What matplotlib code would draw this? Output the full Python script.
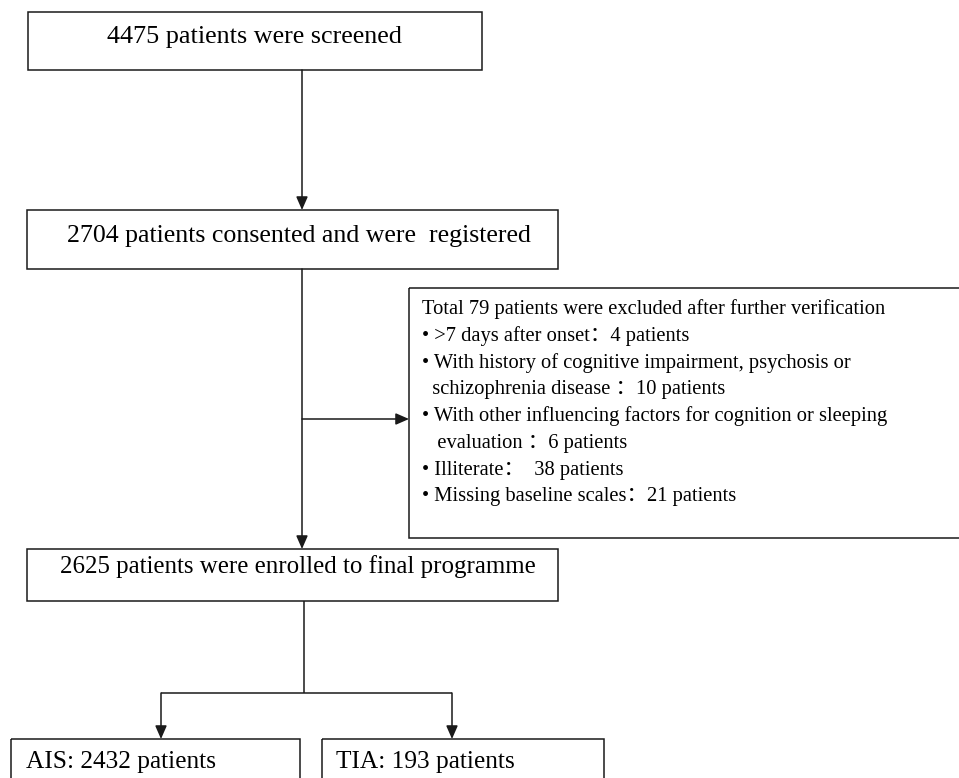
import matplotlib.pyplot as plt
from matplotlib.patches import Rectangle

# --- flowchart text ---
STEP_LABELS = [
    '4475 patients were screened',
    '2704 patients consented and were  registered',
    '2625 patients were enrolled to final programme',
]
EXCLUDE_TITLE = 'Total 79 patients were excluded after further verification'
EXCLUDE_LINES = [
    '• >7 days after onset：4 patients',
    '• With history of cognitive impairment, psychosis or',
    '  schizophrenia disease ：10 patients',
    '• With other influencing factors for cognition or sleeping',
    '   evaluation ：6 patients',
    '• Illiterate：  38 patients',
    '• Missing baseline scales：21 patients',
]
GROUP_LABELS = ['AIS: 2432 patients', 'TIA: 193 patients']

FONT = ['Liberation Serif', 'Noto Sans CJK SC']
LINE_COLOR = '#1a1a1a'
LW = 1.1

W, H = 959, 778

fig = plt.figure(figsize=(W / 100, H / 100), dpi=100)
ax = fig.add_axes([0, 0, 1, 1])
ax.set_xlim(0, W)
ax.set_ylim(H, 0)
ax.axis('off')


def box(x0, y0, x1, y1):
    ax.add_patch(Rectangle((x0, y0), x1 - x0, y1 - y0, fill=False,
                           edgecolor=LINE_COLOR, linewidth=LW))


def line(xs, ys):
    ax.plot(xs, ys, color=LINE_COLOR, linewidth=LW, solid_capstyle='butt')


def arrow(x0, y0, x1, y1):
    ax.annotate('', xy=(x1, y1), xytext=(x0, y0),
                arrowprops=dict(arrowstyle='-|>,head_length=0.8,head_width=0.35',
                                color=LINE_COLOR, lw=LW,
                                shrinkA=0, shrinkB=0))


# main boxes
box(28, 12, 482, 70)
ax.text(107, 37, STEP_LABELS[0], family=FONT, fontsize=18.8, va='center')

box(27, 210, 558, 269)
ax.text(67, 236, STEP_LABELS[1], family=FONT, fontsize=18.6, va='center')

box(27, 549, 558, 601)
ax.text(60, 567, STEP_LABELS[2], family=FONT, fontsize=17.9, va='center')

arrow(302, 70, 302, 210)
arrow(302, 269, 302, 549)

# exclusion box
box(409, 288, 962, 538)
arrow(302, 419, 409, 419)
ax.text(422, 309, EXCLUDE_TITLE, family=FONT, fontsize=14.8, va='center')
for i, s in enumerate(EXCLUDE_LINES):
    ax.text(422, 336 + i * 26.8, s, family=FONT, fontsize=14.8, va='center')

# split to groups
line([304, 304], [601, 693])
line([161, 452], [693, 693])
arrow(161, 693, 161, 739)
arrow(452, 693, 452, 739)

box(11, 739, 300, 790)
box(322, 739, 604, 790)
ax.text(26, 762, GROUP_LABELS[0], family=FONT, fontsize=18.3, va='center')
ax.text(336, 762, GROUP_LABELS[1], family=FONT, fontsize=18.3, va='center')

fig.savefig('out.png', dpi=100)
